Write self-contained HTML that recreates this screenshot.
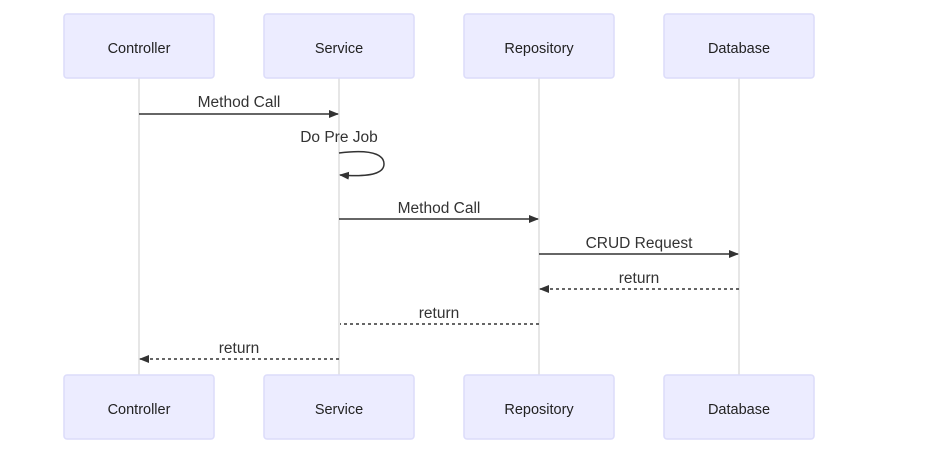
<!DOCTYPE html>
<html><head><meta charset="utf-8"><style>
html,body{margin:0;padding:0;background:#fff;width:934px;height:458px;overflow:hidden}
text{font-family:"Liberation Sans",sans-serif}
</style></head><body>
<svg width="934" height="458" viewBox="0 0 934 458" xmlns="http://www.w3.org/2000/svg">
<defs>
<marker id="a" markerWidth="10" markerHeight="8" refX="9" refY="4" orient="auto" markerUnits="userSpaceOnUse">
<path d="M0,0 L10,4 L0,8 z" fill="#333"/></marker>
</defs>
<g stroke="#ddd" stroke-width="1.5">
<line x1="139" y1="78" x2="139" y2="375"/>
<line x1="339" y1="78" x2="339" y2="375"/>
<line x1="539" y1="78" x2="539" y2="375"/>
<line x1="739" y1="78" x2="739" y2="375"/>
</g>
<g fill="#ECECFF" stroke="#dcdcfa" stroke-width="1.5">
<rect x="64" y="14" width="150" height="64" rx="3"/>
<rect x="264" y="14" width="150" height="64" rx="3"/>
<rect x="464" y="14" width="150" height="64" rx="3"/>
<rect x="664" y="14" width="150" height="64" rx="3"/>
<rect x="64" y="375" width="150" height="64" rx="3"/>
<rect x="264" y="375" width="150" height="64" rx="3"/>
<rect x="464" y="375" width="150" height="64" rx="3"/>
<rect x="664" y="375" width="150" height="64" rx="3"/>
</g>
<g font-size="14.5" fill="#222" text-anchor="middle">
<text x="139" y="53">Controller</text><text x="339" y="53">Service</text>
<text x="539" y="53">Repository</text><text x="739" y="53">Database</text>
<text x="139" y="414">Controller</text><text x="339" y="414">Service</text>
<text x="539" y="414">Repository</text><text x="739" y="414">Database</text>
</g>
<g font-size="15.5" fill="#333" text-anchor="middle">
<text x="239" y="107">Method Call</text>
<text x="339" y="142">Do Pre Job</text>
<text x="439" y="213">Method Call</text>
<text x="639" y="248">CRUD Request</text>
<text x="639" y="283">return</text>
<text x="439" y="318">return</text>
<text x="239" y="353">return</text>
</g>
<g stroke="#333" stroke-width="1.5" fill="none">
<line x1="139" y1="114" x2="338" y2="114" marker-end="url(#a)"/>
<path d="M339,153 C379,148 384,158 384,164 C384,170 379,178 340,175" marker-end="url(#a)"/>
<line x1="339" y1="219" x2="538" y2="219" marker-end="url(#a)"/>
<line x1="539" y1="254" x2="738" y2="254" marker-end="url(#a)"/>
<line x1="739" y1="289" x2="540" y2="289" stroke-dasharray="3,3" marker-end="url(#a)"/>
<line x1="539" y1="324" x2="340" y2="324" stroke-dasharray="3,3"/>
<line x1="339" y1="359" x2="140" y2="359" stroke-dasharray="3,3" marker-end="url(#a)"/>
</g>
</svg>
</body></html>
